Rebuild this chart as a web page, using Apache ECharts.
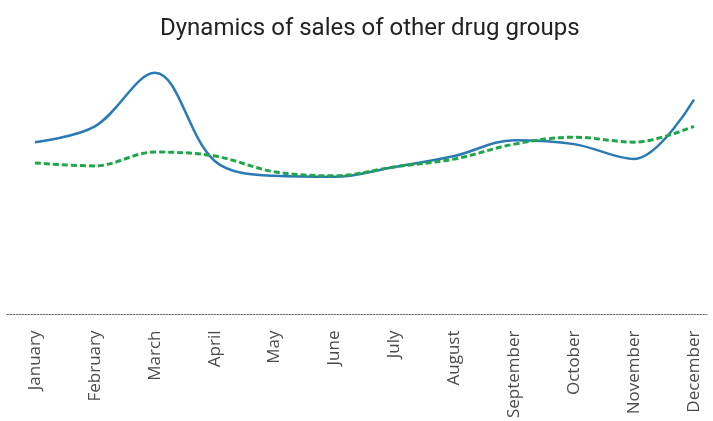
<!DOCTYPE html>
<html><head><meta charset="utf-8">
<script src="https://cdn.jsdelivr.net/npm/echarts@6/dist/echarts.min.js"></script>
<style>html,body{margin:0;padding:0;background:#fff}#c{width:713px;height:421px}</style>
</head><body><div id="c"></div>
<script>
const months = ["January","February","March","April","May","June","July","August","September","October","November","December"];
const seriesA = [171, 187, 241, 152, 137, 136, 146, 157, 173, 169, 154, 214];
const seriesB = [150, 147, 161, 157, 141, 137, 146, 154, 169, 176, 171, 187];
const chart = echarts.init(document.getElementById('c'));
chart.setOption({
  animation: false,
  title: {text: 'Dynamics of sales of other drug groups', left: 155, top: 12,
    textStyle: {fontFamily: 'Roboto', fontSize: 24, fontWeight: 'normal', color: '#222'}},
  grid: [
    {left: 35, right: 19, top: 54, bottom: 107},
    {left: 7, right: 6, top: 54, bottom: 107}
  ],
  xAxis: [
    {type: 'category', data: months, boundaryGap: false, gridIndex: 0,
      axisLine: {show: false}, axisTick: {show: false},
      axisLabel: {rotate: 90, margin: 19, fontFamily: 'Open Sans', fontSize: 17, color: '#4a4a4a'}},
    {type: 'value', gridIndex: 1, min: 0, max: 1, axisLabel: {show: false}, axisTick: {show: false},
      splitLine: {show: false},
      axisLine: {show: true, lineStyle: {type: [1.5, 1.5], color: '#666', width: 1}}}
  ],
  yAxis: [
    {type: 'value', min: 0, max: 260, gridIndex: 0, show: false},
    {type: 'value', min: 0, max: 1, gridIndex: 1, show: false}
  ],
  series: [
    {type: 'line', data: seriesA, smooth: 0.35, symbol: 'none',
      lineStyle: {color: '#2a7ab5', width: 2.5}},
    {type: 'line', data: seriesB, smooth: 0.35, symbol: 'none',
      lineStyle: {color: '#1fa64a', width: 3, type: [6, 3]}}
  ]
});
</script></body></html>
